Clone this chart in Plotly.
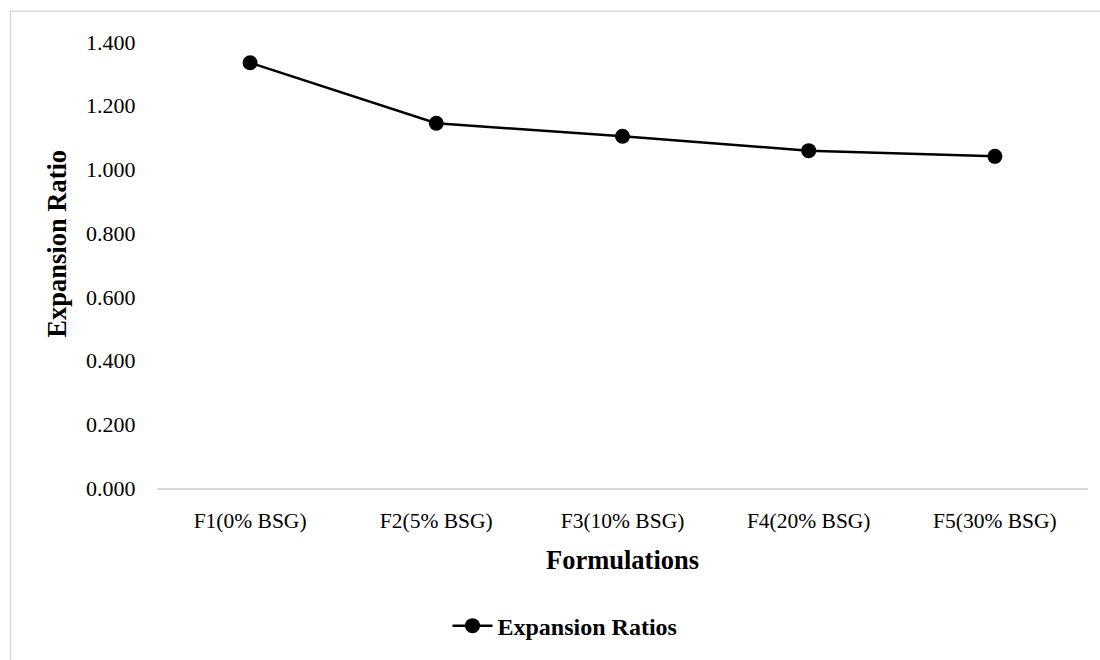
import plotly.graph_objects as go

# Expansion ratio per formulation
formulations = ["F1(0% BSG)", "F2(5% BSG)", "F3(10% BSG)", "F4(20% BSG)", "F5(30% BSG)"]
expansion_ratios = [1.335, 1.145, 1.104, 1.059, 1.041]
y_ticks = [0.0, 0.2, 0.4, 0.6, 0.8, 1.0, 1.2, 1.4]

W, H = 1100, 660
ML, MR, MT, MB = 157, 12, 42, 169
pw, ph = W - ML - MR, H - MT - MB


def px_x(px):
    return (px - ML) / pw


def px_y(py):
    return (H - MB - py) / ph


font_family = "Liberation Serif, Times New Roman, serif"

fig = go.Figure()
fig.add_trace(go.Scatter(
    x=formulations,
    y=expansion_ratios,
    mode="lines+markers",
    name="Expansion Ratios",
    line=dict(color="black", width=2.5),
    marker=dict(color="black", size=15, symbol="circle"),
))

# light outer frame of the chart area
fig.add_shape(
    type="rect", xref="paper", yref="paper",
    x0=px_x(10.5), x1=px_x(W + 20),
    y0=px_y(H + 20), y1=px_y(11),
    line=dict(color="#d9d9d9", width=1.5), fillcolor="rgba(0,0,0,0)",
    layer="below",
)

fig.add_annotation(
    text="<b>Formulations</b>", xref="paper", yref="paper",
    x=0.5, y=px_y(563), xanchor="center", yanchor="middle",
    showarrow=False, font=dict(family=font_family, size=26.5, color="#000000"),
)
fig.add_annotation(
    text="<b>Expansion Ratio</b>", xref="paper", yref="paper",
    x=px_x(57), y=px_y(245), xanchor="center", yanchor="middle",
    textangle=-90, showarrow=False,
    font=dict(family=font_family, size=26.5, color="#000000"),
)

fig.update_layout(
    width=W, height=H,
    margin=dict(l=ML, r=MR, t=MT, b=MB),
    paper_bgcolor="white", plot_bgcolor="white",
    font=dict(family=font_family, color="#000000", size=22),
    showlegend=True,
    legend=dict(
        orientation="h", x=px_x(565), xanchor="center",
        y=px_y(630), yanchor="middle",
        font=dict(family=font_family, size=24, color="#000000", weight="bold"),
        itemwidth=40,
    ),
    xaxis=dict(
        type="category", range=[-0.5, len(formulations) - 0.5],
        showline=True, linecolor="#d9d9d9", linewidth=1.5,
        showgrid=False, zeroline=False,
        ticks="outside", ticklen=12, tickcolor="rgba(0,0,0,0)",
        tickfont=dict(size=21.5),
    ),
    yaxis=dict(
        range=[0, 1.4], tickvals=y_ticks,
        ticktext=[f"{v:.3f}" for v in y_ticks],
        showline=False, showgrid=False, zeroline=False,
        ticks="outside", ticklen=16, tickcolor="rgba(0,0,0,0)",
        tickfont=dict(size=22),
    ),
)

fig.write_html("out.html")
